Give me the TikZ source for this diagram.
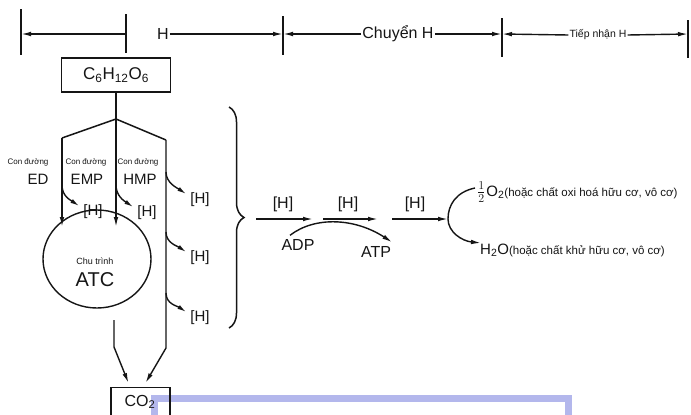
\documentclass[tikz,border=0pt]{standalone}
\usepackage{fontspec}
\setmainfont{Liberation Sans}
\definecolor{mucDen}{HTML}{151515}
\definecolor{vienXanh}{HTML}{B3B7EC}
\usetikzlibrary{
	arrows.meta,
	positioning,
	calc,
	shapes.geometric,
	decorations.pathreplacing
}
\tikzset{
	hop/.style={
		draw=mucDen,
		line width=1.4pt,
		inner sep=2pt
	},
	nhan/.style={
		inner sep=1pt,
		text=mucDen,
		font=\fontsize{15}{17}\selectfont
	},
	nhanLon/.style={
		inner sep=1pt,
		text=mucDen,
		font=\fontsize{17}{19}\selectfont
	},
	nhanNho/.style={
		inner sep=1pt,
		text=mucDen,
		font=\fontsize{8}{9}\selectfont
	},
	duong/.style={
		line width=1.5pt,
		mucDen
	},
	vach/.style={
		line width=1.7pt,
		mucDen
	},
	muiten/.style={
		-{Latex[length=10pt,width=4.6pt]},
		line width=1.4pt,
		mucDen
	},
	nhanh/.style={
		-{Latex[length=9pt,width=4.4pt]},
		line width=1.4pt,
		mucDen
	}
}

\begin{document}
\begin{tikzpicture}[x=1pt,y=-1pt]
	\clip (0,0) rectangle (691,415);
	\fill[white] (0,0) rectangle (691,415);
	% thanh phan vung
	\foreach \x/\ten/\a/\b in {21/v1/9/55,126/v2/14/53,283/v3/16/55,502/v4/18/57,688/v5/20/58}{
		\coordinate (\ten) at (\x,34);
		\draw[vach] (\x,\a) -- (\x,\b);
	}
	\draw[muiten] (v2) -- (v1);
	\node[nhan, font=\fontsize{16}{18}\selectfont] (hTren) at (163,34) {H};
	\draw[muiten] (hTren.east) -- (v3);
	\node[nhan, font=\fontsize{16}{18}\selectfont] (chuyen) at (398,34) {Chuyển H};
	\draw[muiten] (chuyen.west) -- (v3);
	\draw[muiten] (chuyen.east) -- (v4);
	\node[nhan, font=\fontsize{10.5}{12}\selectfont] (tiep) at (598,35) {Tiếp nhận H};
	\draw[muiten] (tiep.west) -- (v4);
	\draw[muiten] (tiep.east) -- (v5);
	% glucose va cac con duong
	\node[hop, nhanLon, minimum width=109pt, minimum height=34pt] (gluco) at (116,75) {C\textsubscript{6}H\textsubscript{12}O\textsubscript{6}};
	\coordinate (dinh) at (116,119);
	\coordinate (goc1) at (62,138);
	\coordinate (goc2) at (166,140);
	\draw[duong] (gluco.south) -- (dinh);
	\draw[duong] (goc1) -- (dinh) -- (goc2);
	\node[draw=mucDen, line width=1.4pt, ellipse, minimum width=108pt, minimum height=98pt] (vong) at (97,259) {};
	\node[nhanNho, font=\fontsize{9}{10}\selectfont] (chuTrinh) at (95,261) {Chu trình};
	\node[nhan, font=\fontsize{20}{22}\selectfont] (atc) at (95,280) {ATC};
	\coordinate (vao1) at (62,227);
	\coordinate (vao2) at (116,227);
	\draw[muiten] (goc1) -- (vao1);
	\draw[muiten] (dinh) -- (vao2);
	\node[nhanNho] (cdED) at (28,162) {Con đường};
	\node[nhan] (ed) at (38,179) {ED};
	\node[nhanNho] (cdEMP) at (86,162) {Con đường};
	\node[nhan] (emp) at (87,179) {EMP};
	\node[nhanNho] (cdHMP) at (138,162) {Con đường};
	\node[nhan] (hmp) at (140,179) {HMP};
	% cac [H] tach ra
	\node[nhan] (hED) at (93,212) {[H]};
	\node[nhan] (hEMP) at (147,213) {[H]};
	\node[nhan] (hHMP1) at (200,200) {[H]};
	\node[nhan] (hHMP2) at (200,258) {[H]};
	\node[nhan] (hHMP3) at (200,318) {[H]};
	\foreach \xa/\ya/\dich in {62/185/hED,116/185/hEMP,166/172/hHMP1,166/232/hHMP2,166/293/hHMP3}{
		\coordinate (tach) at (\xa,\ya);
		\draw[nhanh] (tach) .. controls +(0,11) and +(-9,-6) .. ($(\dich.west)+(-3,-6)$);
	}
	% ra CO2
	\draw[vienXanh, line width=7pt] (154,420) -- (154,398.5) -- (568.5,398.5) -- (568.5,420);
	\node[hop, minimum width=59pt, minimum height=44pt, anchor=north] (co2) at (140.5,387) {};
	\node[nhan, font=\fontsize{16}{18}\selectfont] (nhanCO2) at (140,402) {CO\textsubscript{2}};
	\coordinate (ra1) at (114,320);
	\coordinate (gap1) at (114,347);
	\coordinate (gap2) at (166,348);
	\draw[muiten] (ra1) -- (gap1) -- ($(co2.north)+(-12,-4)$);
	\draw[muiten] (goc2) -- (gap2) -- ($(co2.north)+(5,-4)$);
	% ngoac va chuoi chuyen H
	\draw[duong, decorate, decoration={brace, amplitude=15pt}] (229,107) -- (229,328);
	\foreach \i/\xa/\xb/\xh in {1/256/313/283,2/323/378/348,3/392/448/415}{
		\coordinate (dau\i) at (\xa,219);
		\coordinate (cuoi\i) at (\xb,219);
		\draw[muiten] (dau\i) -- (cuoi\i);
		\node[nhan, font=\fontsize{16}{18}\selectfont] (hChuyen\i) at (\xh,204) {[H]};
	}
	\node[nhan, font=\fontsize{16}{18}\selectfont] (adp) at (298,245) {ADP};
	\node[nhan, font=\fontsize{16}{18}\selectfont] (atp) at (376,252) {ATP};
	\draw[muiten] ($(adp.north)+(-8,-3)$) .. controls (315,216) and (355,218) .. ($(atp.north east)+(0,-3)$);
	% tiep nhan H
	\coordinate (reTren) at (475,188);
	\coordinate (reDuoi) at (481,243);
	\draw[muiten] (reTren) .. controls (456,192) and (448,205) .. (cuoi3) .. controls (448,232) and (462,241) .. (reDuoi);
	\node[nhan, anchor=west, inner sep=0pt] (oxi) at (477,192) {{\fontsize{18}{18}\selectfont$\frac{1}{2}$}\kern1pt{\fontsize{15}{17}\selectfont O\textsubscript{2}}{\fontsize{11.5}{14}\selectfont(hoặc chất oxi hoá hữu cơ, vô cơ)}};
	\node[nhan, anchor=west, inner sep=0pt] (nuoc) at (480,250) {{\fontsize{15}{17}\selectfont H\textsubscript{2}O}{\fontsize{11.5}{14}\selectfont(hoặc chất khử hữu cơ, vô cơ)}};
\end{tikzpicture}
\end{document}
